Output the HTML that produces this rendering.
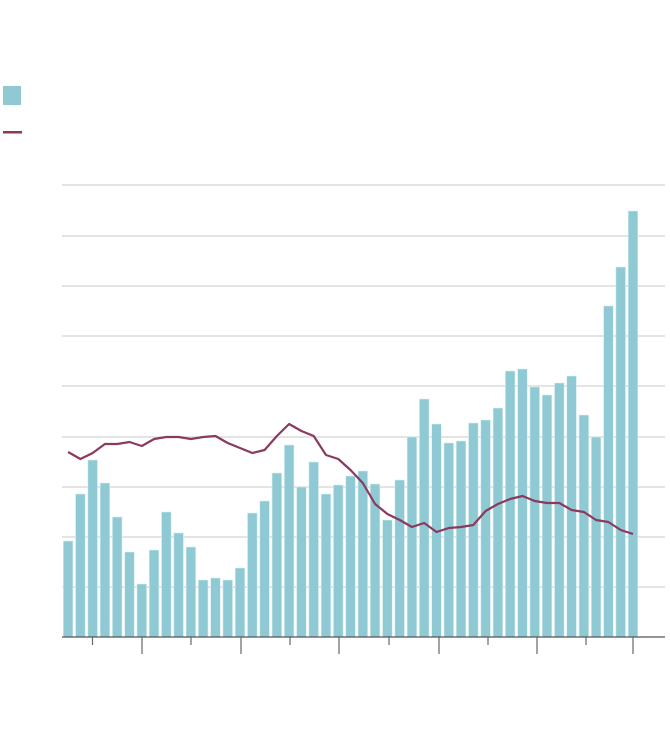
<!DOCTYPE html>
<html><head><meta charset="utf-8"><style>body{margin:0;background:#fff}svg{display:block}</style></head>
<body>
<svg width="670" height="752" xmlns="http://www.w3.org/2000/svg">
<rect x="3" y="86" width="18" height="19" fill="#8fc9d3"/>
<rect x="3" y="131" width="19" height="2.5" fill="#8b3a5e"/>
<g stroke="#dcdcdc" stroke-width="1.5">
<line x1="62" x2="665" y1="185" y2="185"/><line x1="62" x2="665" y1="236" y2="236"/>
<line x1="62" x2="665" y1="286" y2="286"/><line x1="62" x2="665" y1="336" y2="336"/>
<line x1="62" x2="665" y1="386" y2="386"/><line x1="62" x2="665" y1="437" y2="437"/>
<line x1="62" x2="665" y1="487" y2="487"/><line x1="62" x2="665" y1="537" y2="537"/>
<line x1="62" x2="665" y1="587" y2="587"/>
</g>
<g fill="#8fc9d3" stroke="#d6eef1" stroke-width="0.6">
<rect x="63.30" y="541" width="9.6" height="96"/>
<rect x="75.58" y="494" width="9.6" height="143"/>
<rect x="87.86" y="460" width="9.6" height="177"/>
<rect x="100.14" y="483" width="9.6" height="154"/>
<rect x="112.42" y="517" width="9.6" height="120"/>
<rect x="124.70" y="552" width="9.6" height="85"/>
<rect x="136.98" y="584" width="9.6" height="53"/>
<rect x="149.26" y="550" width="9.6" height="87"/>
<rect x="161.54" y="512" width="9.6" height="125"/>
<rect x="173.82" y="533" width="9.6" height="104"/>
<rect x="186.10" y="547" width="9.6" height="90"/>
<rect x="198.38" y="580" width="9.6" height="57"/>
<rect x="210.66" y="578" width="9.6" height="59"/>
<rect x="222.94" y="580" width="9.6" height="57"/>
<rect x="235.22" y="568" width="9.6" height="69"/>
<rect x="247.50" y="513" width="9.6" height="124"/>
<rect x="259.78" y="501" width="9.6" height="136"/>
<rect x="272.06" y="473" width="9.6" height="164"/>
<rect x="284.34" y="445" width="9.6" height="192"/>
<rect x="296.62" y="487" width="9.6" height="150"/>
<rect x="308.90" y="462" width="9.6" height="175"/>
<rect x="321.18" y="494" width="9.6" height="143"/>
<rect x="333.46" y="485" width="9.6" height="152"/>
<rect x="345.74" y="476" width="9.6" height="161"/>
<rect x="358.02" y="471" width="9.6" height="166"/>
<rect x="370.30" y="484" width="9.6" height="153"/>
<rect x="382.58" y="520" width="9.6" height="117"/>
<rect x="394.86" y="480" width="9.6" height="157"/>
<rect x="407.14" y="437" width="9.6" height="200"/>
<rect x="419.42" y="399" width="9.6" height="238"/>
<rect x="431.70" y="424" width="9.6" height="213"/>
<rect x="443.98" y="443" width="9.6" height="194"/>
<rect x="456.26" y="441" width="9.6" height="196"/>
<rect x="468.54" y="423" width="9.6" height="214"/>
<rect x="480.82" y="420" width="9.6" height="217"/>
<rect x="493.10" y="408" width="9.6" height="229"/>
<rect x="505.38" y="371" width="9.6" height="266"/>
<rect x="517.66" y="369" width="9.6" height="268"/>
<rect x="529.94" y="387" width="9.6" height="250"/>
<rect x="542.22" y="395" width="9.6" height="242"/>
<rect x="554.50" y="383" width="9.6" height="254"/>
<rect x="566.78" y="376" width="9.6" height="261"/>
<rect x="579.06" y="415" width="9.6" height="222"/>
<rect x="591.34" y="437" width="9.6" height="200"/>
<rect x="603.62" y="306" width="9.6" height="331"/>
<rect x="615.90" y="267" width="9.6" height="370"/>
<rect x="628.18" y="211" width="9.6" height="426"/>
</g>
<polyline fill="none" stroke="#8b3a5e" stroke-width="2.2" stroke-linejoin="round" points="68.1,452 80.4,459 92.7,453 104.9,444 117.2,444 129.5,442 141.8,446 154.1,439 166.3,437 178.6,437 190.9,439 203.2,437 215.5,436 227.7,443 240,448 252.3,453 264.6,450 276.9,436 289.1,424 301.4,431 313.7,436 326,455 338.3,459 350.5,470 362.8,483 375.1,504 387.4,514 399.7,520 411.9,527 424.2,523 436.5,532 448.8,528 461.1,527 473.3,525 485.6,511 497.9,504 510.2,499 522.5,496 534.7,501 547,503 559.3,503 571.6,510 583.9,512 596.1,520 608.4,522 620.7,530 633,534"/>
<line x1="62" x2="665" y1="637" y2="637" stroke="#555" stroke-width="1.2"/>
<g stroke="#666" stroke-width="1.2">
<line x1="92.5" x2="92.5" y1="637" y2="645"/><line x1="142" x2="142" y1="637" y2="654"/>
<line x1="191" x2="191" y1="637" y2="645"/><line x1="241" x2="241" y1="637" y2="654"/>
<line x1="290" x2="290" y1="637" y2="645"/><line x1="339" x2="339" y1="637" y2="654"/>
<line x1="389" x2="389" y1="637" y2="645"/><line x1="439" x2="439" y1="637" y2="654"/>
<line x1="488" x2="488" y1="637" y2="645"/><line x1="537" x2="537" y1="637" y2="654"/>
<line x1="586" x2="586" y1="637" y2="645"/><line x1="633" x2="633" y1="637" y2="654"/>
</g>
</svg>
</body></html>
